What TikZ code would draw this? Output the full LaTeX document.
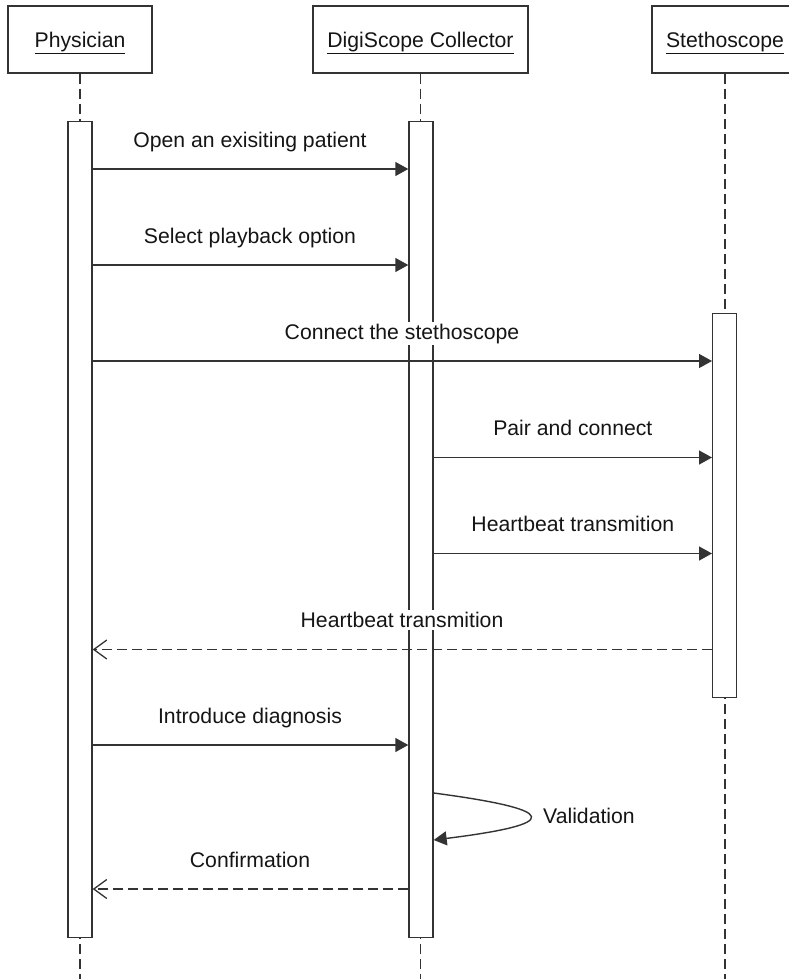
\documentclass[tikz,border=0pt]{standalone}
\usepackage{fontspec}
\setmainfont{Liberation Sans}
\usetikzlibrary{arrows.meta}
\definecolor{ink}{HTML}{333333}
\definecolor{txt}{HTML}{151515}
\begin{document}
\begin{tikzpicture}[x=1pt,y=-1pt,
  font=\fontsize{21.2}{25}\selectfont,
  actor/.style={draw=ink, line width=1.5pt, fill=white, text=txt, inner sep=0pt,
                text height=15.2pt, text depth=0pt, minimum height=67pt},
  lifeline/.style={draw=ink, line width=1.4pt, dash pattern=on 10pt off 5pt},
  bar/.style={draw=ink, line width=1.4pt, fill=white, minimum width=24pt,
              inner sep=0pt, anchor=north},
  call/.style={draw=ink, line width=1.4pt, -{Triangle[length=13pt,width=14pt]}},
  reply/.style={draw=ink, line width=1.4pt, dash pattern=on 10pt off 5pt,
                -{Straight Barb[length=13pt,width=19pt,line width=1.3pt]}},
  msg/.style={fill=white, inner xsep=1pt, inner ysep=2pt, anchor=base, text=txt}
]
\clip (0,0) rectangle (789,979);

% participants
\node[actor, minimum width=144pt] (phy) at (80,39.5) {\underline{Physician}};
\node[actor, minimum width=215pt] (dig) at (420.5,39.5) {\underline{DigiScope Collector}};
\node[actor, minimum width=146pt] (ste) at (725,39.5) {\underline{Stethoscope}};

% lifelines
\coordinate (bottom) at (0,979);
\draw[lifeline] (phy.south) -- (phy.south |- bottom);
\draw[lifeline] (dig.south) -- (dig.south |- bottom);
\draw[lifeline] (ste.south) -- (ste.south |- bottom);

% activation bars
\node[bar, minimum height=816pt] (phybar) at (80,121) {};
\node[bar, minimum height=816pt] (digbar) at (421,121) {};
\node[bar, minimum height=384pt] (stebar) at (724.7,313) {};

% message levels
\coordinate (m1) at (0,169);
\coordinate (m2) at (0,265);
\coordinate (m3) at (0,361);
\coordinate (m4) at (0,457.5);
\coordinate (m5) at (0,553.5);
\coordinate (m6) at (0,649.5);
\coordinate (m7) at (0,745);
\coordinate (v1) at (0,793);
\coordinate (v2) at (0,840);
\coordinate (m9) at (0,889);

% messages
\draw[call] (phybar.east |- m1) -- (digbar.west |- m1);
\draw[call] (phybar.east |- m2) -- (digbar.west |- m2);
\draw[call] (phybar.east |- m3) -- (stebar.west |- m3);
\draw[call] (digbar.east |- m4) -- (stebar.west |- m4);
\draw[call] (digbar.east |- m5) -- (stebar.west |- m5);
\draw[reply] (stebar.west |- m6) -- (phybar.east |- m6);
\draw[call] (phybar.east |- m7) -- (digbar.west |- m7);
\draw[call] (digbar.east |- v1) .. controls (562,810) and (562,824) .. (digbar.east |- v2);
\draw[reply] (digbar.west |- m9) -- (phybar.east |- m9);

% message labels
\node[msg] (l1) at (250,147) {Open an exisiting patient};
\node[msg] (l2) at (250,243) {Select playback option};
\node[msg] (l3) at (402,339) {Connect the stethoscope};
\node[msg] (l4) at (572.8,435.5) {Pair and connect};
\node[msg] (l5) at (572.8,531.5) {Heartbeat transmition};
\node[msg] (l6) at (402,627.5) {Heartbeat transmition};
\node[msg] (l7) at (250,723) {Introduce diagnosis};
\node[msg, anchor=base west] (l8) at (542,823) {Validation};
\node[msg] (l9) at (250,867) {Confirmation};
\end{tikzpicture}
\end{document}
